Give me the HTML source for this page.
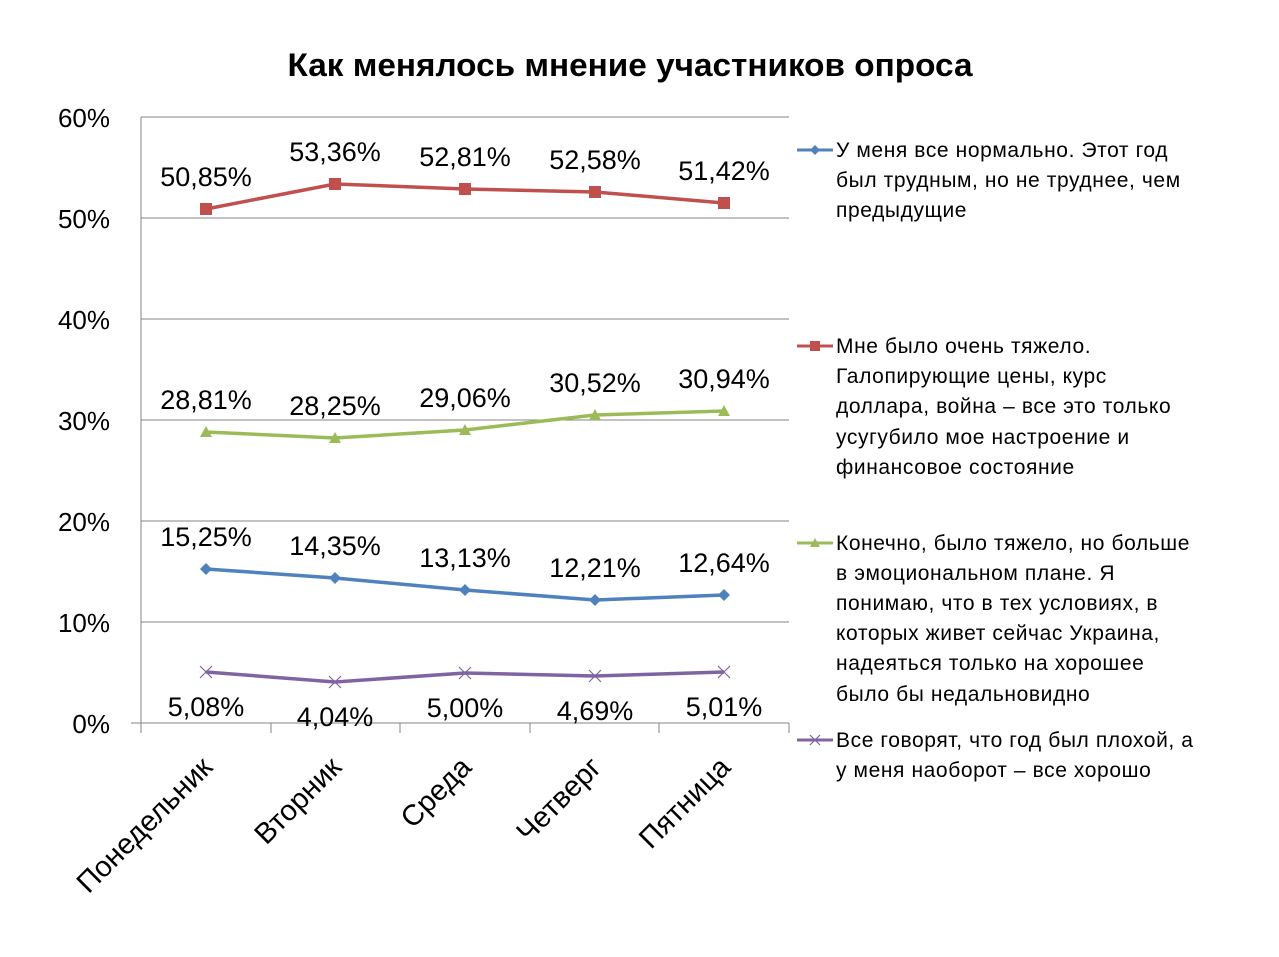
<!DOCTYPE html>
<html><head><meta charset="utf-8"><style>
html,body{margin:0;padding:0;background:#fff;}
svg{display:block;font-family:"Liberation Sans","DejaVu Sans",sans-serif;}
</style></head><body>
<svg width="1279" height="957" viewBox="0 0 1279 957" xmlns="http://www.w3.org/2000/svg">
<rect width="1279" height="957" fill="#fff"/>
<text x="630" y="76" text-anchor="middle" font-size="32" font-weight="bold" fill="#000" textLength="685" lengthAdjust="spacingAndGlyphs">Как менялось мнение участников опроса</text>
<g stroke="#868686" stroke-width="1">
<line x1="141" y1="117" x2="789" y2="117"/>
<line x1="141" y1="218" x2="789" y2="218"/>
<line x1="141" y1="319" x2="789" y2="319"/>
<line x1="141" y1="420" x2="789" y2="420"/>
<line x1="141" y1="521" x2="789" y2="521"/>
<line x1="141" y1="622" x2="789" y2="622"/>
<line x1="131" y1="723" x2="789" y2="723"/>
<line x1="141" y1="117" x2="141" y2="733"/>
<line x1="271" y1="723" x2="271" y2="733"/>
<line x1="400" y1="723" x2="400" y2="733"/>
<line x1="530" y1="723" x2="530" y2="733"/>
<line x1="659" y1="723" x2="659" y2="733"/>
<line x1="789" y1="723" x2="789" y2="733"/>
</g>
<g font-size="26" fill="#000" text-anchor="end">
<text x="110" y="127">60%</text><text x="110" y="228">50%</text><text x="110" y="329">40%</text>
<text x="110" y="430">30%</text><text x="110" y="531">20%</text><text x="110" y="632">10%</text><text x="110" y="733">0%</text>
</g>
<g font-size="29" fill="#000" text-anchor="end">
<text transform="translate(214,769) rotate(-45)">Понедельник</text>
<text transform="translate(343,769) rotate(-45)">Вторник</text>
<text transform="translate(473,769) rotate(-45)">Среда</text>
<text transform="translate(603,769) rotate(-45)">Четверг</text>
<text transform="translate(732,769) rotate(-45)">Пятница</text>
</g>
<polyline fill="none" stroke="#C0504D" stroke-width="3.5" points="206,209 335,184 465,189 595,192 724,203"/>
<g fill="#C0504D"><rect x="200" y="203" width="12" height="12"/><rect x="329" y="178" width="12" height="12"/><rect x="459" y="183" width="12" height="12"/><rect x="589" y="186" width="12" height="12"/><rect x="718" y="197" width="12" height="12"/></g>
<polyline fill="none" stroke="#9BBB59" stroke-width="3.5" points="206,432 335,438 465,430 595,415 724,411"/>
<g fill="#9BBB59"><path d="M206,426l6,11h-12z"/><path d="M335,432l6,11h-12z"/><path d="M465,424l6,11h-12z"/><path d="M595,409l6,11h-12z"/><path d="M724,405l6,11h-12z"/></g>
<polyline fill="none" stroke="#4F81BD" stroke-width="3.5" points="206,569 335,578 465,590 595,600 724,595"/>
<g fill="#4F81BD"><path d="M206,563l6,6-6,6-6-6z"/><path d="M335,572l6,6-6,6-6-6z"/><path d="M465,584l6,6-6,6-6-6z"/><path d="M595,594l6,6-6,6-6-6z"/><path d="M724,589l6,6-6,6-6-6z"/></g>
<polyline fill="none" stroke="#8064A2" stroke-width="3.5" points="206,672 335,682 465,673 595,676 724,672"/>
<g stroke="#8064A2" stroke-width="1.2"><path d="M200,666l12,12M212,666l-12,12"/><path d="M329,676l12,12M341,676l-12,12"/><path d="M459,667l12,12M471,667l-12,12"/><path d="M589,670l12,12M601,670l-12,12"/><path d="M718,666l12,12M730,666l-12,12"/></g>
<g font-size="27" fill="#000" text-anchor="middle">
<text x="206" y="186">50,85%</text><text x="335" y="161">53,36%</text><text x="465" y="166">52,81%</text><text x="595" y="169">52,58%</text><text x="724" y="180">51,42%</text>
<text x="206" y="409">28,81%</text><text x="335" y="415">28,25%</text><text x="465" y="407">29,06%</text><text x="595" y="392">30,52%</text><text x="724" y="388">30,94%</text>
<text x="206" y="546">15,25%</text><text x="335" y="555">14,35%</text><text x="465" y="567">13,13%</text><text x="595" y="577">12,21%</text><text x="724" y="572">12,64%</text>
<text x="206" y="716">5,08%</text><text x="335" y="726">4,04%</text><text x="465" y="717">5,00%</text><text x="595" y="720">4,69%</text><text x="724" y="716">5,01%</text>
</g>
<line x1="797" y1="150" x2="833" y2="150" stroke="#4F81BD" stroke-width="3"/><path d="M815,145l5,5-5,5-5-5z" fill="#4F81BD"/>
<line x1="797" y1="346" x2="833" y2="346" stroke="#C0504D" stroke-width="3"/><rect x="810" y="341" width="10" height="10" fill="#C0504D"/>
<line x1="797" y1="543" x2="833" y2="543" stroke="#9BBB59" stroke-width="3"/><path d="M815,538l5,9h-10z" fill="#9BBB59"/>
<line x1="797" y1="740" x2="833" y2="740" stroke="#8064A2" stroke-width="3"/><path d="M810,735l10,10M820,735l-10,10" stroke="#8064A2" stroke-width="1.2"/>
<g font-size="21" fill="#000" letter-spacing="0.6">
<text x="836" y="157">У меня все нормально. Этот год</text>
<text x="836" y="187">был трудным, но не труднее, чем</text>
<text x="836" y="217">предыдущие</text>
<text x="836" y="353">Мне было очень тяжело.</text>
<text x="836" y="383">Галопирующие цены, курс</text>
<text x="836" y="413">доллара, война – все это только</text>
<text x="836" y="444">усугубило мое настроение и</text>
<text x="836" y="474">финансовое состояние</text>
<text x="836" y="550">Конечно, было тяжело, но больше</text>
<text x="836" y="580">в эмоциональном плане. Я</text>
<text x="836" y="610">понимаю, что в тех условиях, в</text>
<text x="836" y="640">которых живет сейчас Украина,</text>
<text x="836" y="670">надеяться только на хорошее</text>
<text x="836" y="701">было бы недальновидно</text>
<text x="836" y="747">Все говорят, что год был плохой, а</text>
<text x="836" y="777">у меня наоборот – все хорошо</text>
</g>
</svg>
</body></html>
